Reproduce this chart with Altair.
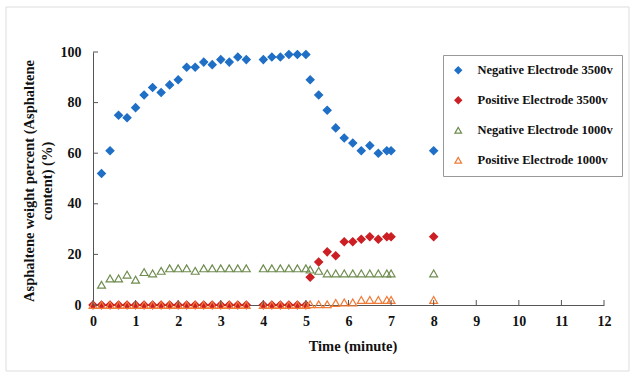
import altair as alt
import pandas as pd

# ---------------- data ----------------
series_names = ["Negative Electrode 3500v", "Positive Electrode 3500v",
                "Negative Electrode 1000v", "Positive Electrode 1000v"]
colors = ["#1f6fc6", "#cc1f24", "#6f8c4f", "#f07a36"]
fills = ["#1f6fc6", "#cc1f24", "transparent", "transparent"]
shapes = ["diamond", "diamond", "triangle-up", "triangle-up"]

t_a = [0.2, 0.4, 0.6, 0.8, 1.0, 1.2, 1.4, 1.6, 1.8, 2.0, 2.2, 2.4, 2.6, 2.8, 3.0, 3.2, 3.4, 3.6]
t_0 = [0.0] + t_a
t_b = [4.0, 4.2, 4.4, 4.6, 4.8, 5.0]
t_c = [5.1, 5.3, 5.5, 5.7, 5.9, 6.1, 6.3, 6.5, 6.7, 6.9, 7.0]
t_d = [8.0]

neg3500_t = t_a + t_b + t_c + t_d
neg3500 = [52, 61, 75, 74, 78, 83, 86, 84, 87, 89, 94, 94, 96, 95, 97, 96, 98, 97,
           97, 98, 98, 99, 99, 99,
           89, 83, 77, 70, 66, 64, 61, 63, 60, 61, 61,
           61]

pos3500_t = t_0 + t_b + t_c + t_d
pos3500 = [0] * 19 + [0] * 6 + [11, 17, 21, 19.5, 25, 25, 26, 27, 26, 27, 27] + [27]

neg1000_t = t_a + t_b + t_c + t_d
neg1000 = [8, 10.5, 10.5, 12, 10, 13, 12.5, 13.5, 14.5, 14.5, 14.5, 13.5, 14.5, 14.5, 14.5, 14.5, 14.5, 14.5,
           14.5, 14.5, 14.5, 14.5, 14.5, 14.5,
           14, 13.5, 12.5, 12.5, 12.5, 12.5, 12.5, 12.5, 12.5, 12.5, 12.5,
           12.5]

pos1000_t = t_0 + t_b + t_c + t_d
pos1000 = [0] * 19 + [0] * 6 + [0.3, 0.3, 0.3, 0.8, 1, 1, 2, 2, 2, 2, 2] + [2]

x_ticks = list(range(0, 13))
y_ticks = [0, 20, 40, 60, 80, 100]

rows = []
for name, ts, vs in zip(series_names,
                        [neg3500_t, pos3500_t, neg1000_t, pos1000_t],
                        [neg3500, pos3500, neg1000, pos1000]):
    for t, v in zip(ts, vs):
        rows.append({"time": t, "value": v, "series": name})
df = pd.DataFrame(rows)
df["order"] = df["series"].map({n: i for i, n in enumerate(series_names)})

W, H = 511, 253
FONT = "Liberation Serif"

xscale = alt.Scale(domain=[0, 12], nice=False, zero=True)
yscale = alt.Scale(domain=[0, 100], nice=False)

points = alt.Chart(df).mark_point(size=62, strokeWidth=1.2, opacity=1).encode(
    x=alt.X("time:Q", scale=xscale,
            axis=alt.Axis(values=x_ticks, title="Time (minute)", ticks=False, grid=False,
                          labelPadding=9, titleX=W / 2 + 4, titleY=41, titleBaseline="middle",
                          titleAnchor="middle", labelFlush=False)),
    y=alt.Y("value:Q", scale=yscale,
            axis=alt.Axis(values=y_ticks, title=["Asphaltene weight percent (Asphaltene", "content) (%)"],
                          ticks=False, grid=False, labelPadding=12,
                          titleX=-64, titleY=H / 2 + 2, titleBaseline="middle", titleAngle=-90,
                          titleAlign="center", titleLineHeight=18)),
    stroke=alt.Stroke("series:N", scale=alt.Scale(domain=series_names, range=colors),
                      legend=alt.Legend(title=None, orient="none", legendX=350, legendY=3,
                                        fillColor="white", strokeColor="#999999", padding=9,
                                        rowPadding=17, symbolSize=44, symbolStrokeWidth=1.2,
                                        labelFont=FONT, labelFontWeight="bold", labelFontSize=12.5,
                                        labelColor="#111111", labelOffset=13, labelLimit=300,
                                        cornerRadius=0)),
    fill=alt.Fill("series:N", scale=alt.Scale(domain=series_names, range=fills), legend=alt.Legend(title=None)),
    shape=alt.Shape("series:N", scale=alt.Scale(domain=series_names, range=shapes), legend=alt.Legend(title=None)),
    order=alt.Order("order:Q"),
)

xtick_df = pd.DataFrame({"v": x_ticks})
ytick_df = pd.DataFrame({"v": y_ticks})

xt = alt.Chart(xtick_df).mark_rule(color="#555555", strokeWidth=1).encode(
    x=alt.X("v:Q", scale=xscale),
    y=alt.value(H), y2=alt.value(H - 5))
yt = alt.Chart(ytick_df).mark_rule(color="#555555", strokeWidth=1).encode(
    y=alt.Y("v:Q", scale=yscale),
    x=alt.value(0), x2=alt.value(5))

frame = alt.Chart(pd.DataFrame({"a": [0]})).mark_rect(
    fill="transparent", stroke="#dddddd", strokeWidth=1).encode(
    x=alt.value(6 - 93), x2=alt.value(629 - 93), y=alt.value(7 - 52), y2=alt.value(371 - 52))

chart = alt.layer(points, xt, yt, frame).properties(
    width=W, height=H,
    background="white",
    autosize=alt.AutoSizeParams(type="none"),
    padding={"left": 93, "top": 52, "right": 31, "bottom": 72},
).configure_view(stroke=None).configure_axis(
    domainColor="#555555", domainWidth=1,
    labelFont=FONT, labelFontWeight="bold", labelFontSize=14, labelColor="#111111",
    titleFont=FONT, titleFontWeight="bold", titleFontSize=14.5, titleColor="#111111",
)

chart.save("out.html", embed_options={"renderer": "svg", "actions": False})
